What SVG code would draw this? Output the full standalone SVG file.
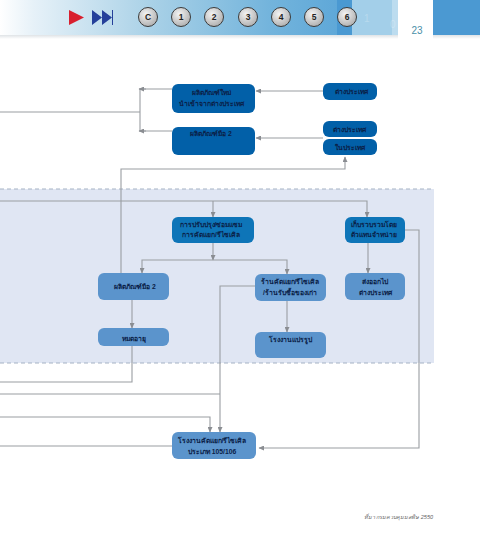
<svg xmlns="http://www.w3.org/2000/svg" width="480" height="560" viewBox="0 0 480 560">
<style>
text{font-family:"Liberation Sans","Noto Sans","DejaVu Sans",sans-serif}
.t{font-size:6.800px;font-weight:700;fill:#0a2148;text-anchor:middle}
.d{fill:#0260a8}.m{fill:#0e75b8}.l{fill:#5b94cc}
.c{fill:none;stroke:#9a9da2;stroke-width:1.100}
.b circle{fill:url(#btn);stroke:#3a3a3a;stroke-width:1}
.b text{font-size:8.500px;font-weight:700;fill:#222;text-anchor:middle}
.bin{font-size:10px;fill:#fff;opacity:.22}
</style>
<defs>
<linearGradient id="ban" x1="0" x2="1" y1="0" y2="0"><stop offset="0" stop-color="#fff"/><stop offset=".1" stop-color="#e6f1f8"/><stop offset=".45" stop-color="#a9d1e7"/><stop offset=".8" stop-color="#73b4dc"/><stop offset="1" stop-color="#5fa8d8"/></linearGradient>
<linearGradient id="sh" x1="0" x2="0" y1="0" y2="1"><stop offset="0" stop-color="#dfe3e6"/><stop offset="1" stop-color="#fff"/></linearGradient>
<radialGradient id="btn" cx=".4" cy=".35" r=".75"><stop offset="0" stop-color="#f4f4f4"/><stop offset="1" stop-color="#a8a8a8"/></radialGradient>
<marker id="a" markerWidth="6" markerHeight="5" refX="5" refY="2.500" orient="auto" markerUnits="userSpaceOnUse"><path d="M0 0L5.500 2.500L0 5Z" fill="#8a8d92"/></marker>
</defs>
<rect width="480" height="560" fill="#fff"/>
<g id="header">
<rect x="0" y="35" width="398" height="4" fill="url(#sh)"/>
<rect x="433" y="35" width="47" height="4" fill="url(#sh)"/>
<rect x="0" y="0" width="337" height="35" fill="url(#ban)"/>
<rect x="337" y="0" width="15" height="35" fill="#4a99d2"/>
<rect x="352" y="0" width="40" height="35" fill="#a3cfe9"/>
<rect x="392" y="0" width="6" height="35" fill="#bcdcef"/>
<rect x="433" y="0" width="47" height="35" fill="#4b99d2"/>
<text class="bin" x="364" y="22">1</text>
<text class="bin" x="390" y="28">0</text>
<path d="M69 10L84 17.500L69 25Z" fill="#d8202f"/>
<path d="M92 10L102 17.500L92 25ZM102 10L112 17.500L102 25Z" fill="#25409a"/>
<rect x="112" y="10" width="1" height="15" fill="#25409a"/>
<g class="b">
<circle cx="148" cy="17" r="9.500"/><text x="148" y="20">C</text>
<circle cx="181" cy="17" r="9.500"/><text x="181" y="20">1</text>
<circle cx="214" cy="17" r="9.500"/><text x="214" y="20">2</text>
<circle cx="248" cy="17" r="9.500"/><text x="248" y="20">3</text>
<circle cx="281" cy="17" r="9.500"/><text x="281" y="20">4</text>
<circle cx="314" cy="17" r="9.500"/><text x="314" y="20">5</text>
<circle cx="347" cy="17" r="9.500"/><text x="347" y="20">6</text>
</g>
<text x="417" y="34" font-size="10" fill="#4a8fa8" text-anchor="middle">23</text>
</g>
<g id="panel">
<rect x="0" y="189" width="434" height="174" fill="#e0e6f3"/>
<path d="M0 189H434M0 363H434" fill="none" stroke="#a5b2c4" stroke-width="1" stroke-dasharray="4 3"/>
</g>
<g id="connectors">
<path class="c" d="M0 112H140"/>
<path class="c" d="M172 89H140V131H172"/>
<path class="c" marker-end="url(#a)" d="M146 89H139"/>
<path class="c" marker-end="url(#a)" d="M146 131H139"/>
<path class="c" marker-end="url(#a)" d="M323 91H256"/>
<path class="c" marker-end="url(#a)" d="M323 138H256"/>
<path class="c" marker-end="url(#a)" d="M121 273V169H345V157"/>
<path class="c" marker-end="url(#a)" d="M0 201H367V217"/>
<path class="c" marker-end="url(#a)" d="M213 201V217"/>
<path class="c" marker-end="url(#a)" d="M213 243V260"/>
<path class="c" marker-end="url(#a)" d="M213 260H142V273"/>
<path class="c" marker-end="url(#a)" d="M213 260H287V274"/>
<path class="c" marker-end="url(#a)" d="M368 243V273"/>
<path class="c" marker-end="url(#a)" d="M132 300V328"/>
<path class="c" marker-end="url(#a)" d="M287 301V332"/>
<path class="c" marker-end="url(#a)" d="M255 286H220V432"/>
<path class="c" marker-end="url(#a)" d="M405 230H419V448H259"/>
<path class="c" d="M132 346V382H0"/>
<path class="c" d="M0 394H220"/>
<path class="c" marker-end="url(#a)" d="M0 417H210V432"/>
<path class="c" d="M0 446H172"/>
</g>
<g id="n1"><rect class="d" x="172" y="84" width="83" height="29" rx="6"/><text class="t" x="211" y="95">ผลิตภัณฑ์ใหม่</text><text class="t" x="211" y="106">นำเข้าจากต่างประเทศ</text></g>
<g id="n2"><rect class="d" x="323" y="83" width="54" height="17" rx="6"/><text class="t" x="351" y="94">ต่างประเทศ</text></g>
<g id="n3"><rect class="d" x="172" y="127" width="83" height="28" rx="6"/><text class="t" x="211" y="136">ผลิตภัณฑ์มือ 2</text></g>
<g id="n4"><rect class="d" x="323" y="121" width="54" height="16" rx="6"/><text class="t" x="349" y="132">ต่างประเทศ</text></g>
<g id="n5"><rect class="d" x="323" y="139" width="54" height="16" rx="6"/><text class="t" x="350" y="150">ในประเทศ</text></g>
<g id="n6"><rect class="m" x="172" y="217" width="82" height="26" rx="6"/><text class="t" x="211" y="227">การปรับปรุง/ซ่อมแซม</text><text class="t" x="211" y="237">การคัดแยก/รีไซเคิล</text></g>
<g id="n7"><rect class="m" x="345" y="217" width="60" height="26" rx="6"/><text class="t" x="374" y="227">เก็บรวบรวมโดย</text><text class="t" x="374" y="237">ตัวแทนจำหน่าย</text></g>
<g id="n8"><rect class="l" x="98" y="273" width="71" height="27" rx="6"/><text class="t" x="135" y="289">ผลิตภัณฑ์มือ 2</text></g>
<g id="n9"><rect class="l" x="255" y="274" width="71" height="27" rx="6"/><text class="t" x="290" y="284">ร้านคัดแยก/รีไซเคิล</text><text class="t" x="290" y="295">/ร้านรับซื้อของเก่า</text></g>
<g id="n10"><rect class="l" x="345" y="273" width="60" height="27" rx="6"/><text class="t" x="375" y="284">ส่งออกไป</text><text class="t" x="375" y="295">ต่างประเทศ</text></g>
<g id="n11"><rect class="l" x="98" y="328" width="71" height="18" rx="6"/><text class="t" x="134" y="341">หมดอายุ</text></g>
<g id="n12"><rect class="l" x="255" y="332" width="71" height="26" rx="6"/><text class="t" x="290" y="342">โรงงานแปรรูป</text></g>
<g id="n13"><rect class="l" x="172" y="432" width="84" height="27" rx="6"/><text class="t" x="212" y="443">โรงงานคัดแยก/รีไซเคิล</text><text class="t" x="212" y="454" font-weight="400">ประเภท 105/106</text></g>
<text id="source" x="433" y="519" font-size="5.500" font-style="italic" fill="#666" text-anchor="end">ที่มา กรมควบคุมมลพิษ 2550</text>
</svg>
